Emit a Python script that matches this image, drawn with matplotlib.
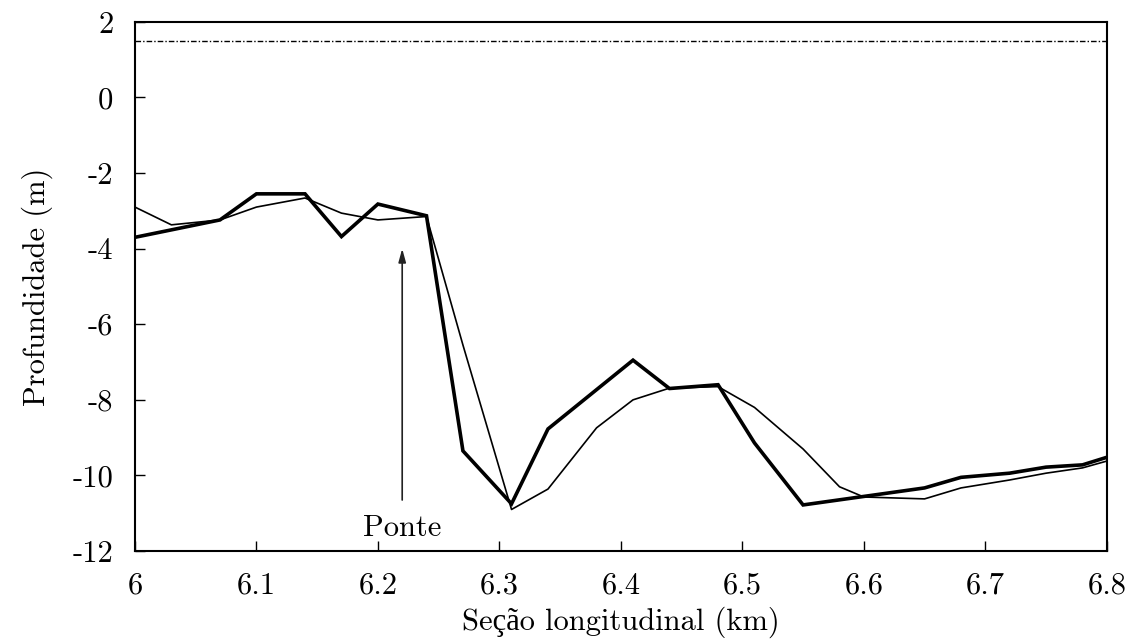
import matplotlib
matplotlib.use("Agg")
import matplotlib.pyplot as plt

plt.rcParams["font.family"] = ["cmr10", "Liberation Serif"]
plt.rcParams["axes.unicode_minus"] = False
plt.rcParams["mathtext.fontset"] = "cm"

# fundo medido (linha grossa) e fundo calculado (linha fina)
x_grosso = [6.0, 6.07, 6.1, 6.14, 6.17, 6.2, 6.24, 6.27, 6.31, 6.34, 6.41, 6.44,
            6.48, 6.51, 6.55, 6.65, 6.68, 6.72, 6.75, 6.78, 6.8]
z_grosso = [-3.7, -3.24, -2.55, -2.55, -3.68, -2.82, -3.13, -9.35, -10.75, -8.77,
            -6.95, -7.7, -7.6, -9.14, -10.78, -10.33, -10.05, -9.94, -9.78, -9.72, -9.52]

x_fino = [6.0, 6.03, 6.07, 6.1, 6.14, 6.17, 6.2, 6.24, 6.27, 6.31, 6.34, 6.38,
          6.41, 6.44, 6.48, 6.51, 6.55, 6.58, 6.6, 6.65, 6.68, 6.72, 6.75, 6.78, 6.8]
z_fino = [-2.9, -3.37, -3.24, -2.9, -2.66, -3.06, -3.24, -3.15, -6.55, -10.9, -10.36,
          -8.74, -8.0, -7.69, -7.65, -8.2, -9.3, -10.3, -10.57, -10.62, -10.33, -10.12,
          -9.94, -9.8, -9.62]

# nivel da superficie livre
nivel = 1.5
x_ponte = 6.22

fig = plt.figure(figsize=(11.34, 6.43), dpi=100)
ax = fig.add_axes([0.119, 0.143, 0.857, 0.823])

ax.plot([6.0, 6.8], [nivel, nivel], color="black", lw=1.0, dashes=(4, 1.5, 1, 1.5))
ax.plot(x_fino, z_fino, color="black", lw=1.2)
ax.plot(x_grosso, z_grosso, color="black", lw=2.6, solid_joinstyle="miter")

ax.annotate("", xy=(x_ponte, -4.0), xytext=(x_ponte, -10.65),
            arrowprops=dict(arrowstyle="-|>,head_length=0.8,head_width=0.22",
                            color="#222222", lw=1.2, shrinkA=0, shrinkB=0))
ax.text(x_ponte, -11.4, "Ponte", ha="center", va="center", fontsize=22)

ax.set_xlim(6.0, 6.8)
ax.set_ylim(-12, 2)
ax.set_xticks([6.0, 6.1, 6.2, 6.3, 6.4, 6.5, 6.6, 6.7, 6.8])
ax.set_xticklabels(["6", "6.1", "6.2", "6.3", "6.4", "6.5", "6.6", "6.7", "6.8"])
ax.set_yticks(range(-12, 3, 2))
ax.set_yticklabels([str(v) for v in range(-12, 3, 2)])
ax.tick_params(direction="in", length=7, width=1, labelsize=22,
               top=False, right=False)
ax.tick_params(axis="x", pad=15)
ax.tick_params(axis="y", pad=15.5)
for s in ax.spines.values():
    s.set_linewidth(1.5)

ax.set_xlabel("Seção longitudinal (km)", fontsize=22, labelpad=5)
ax.set_ylabel("Profundidade (m)", fontsize=22, labelpad=14)

fig.savefig("out.png", dpi=100)
